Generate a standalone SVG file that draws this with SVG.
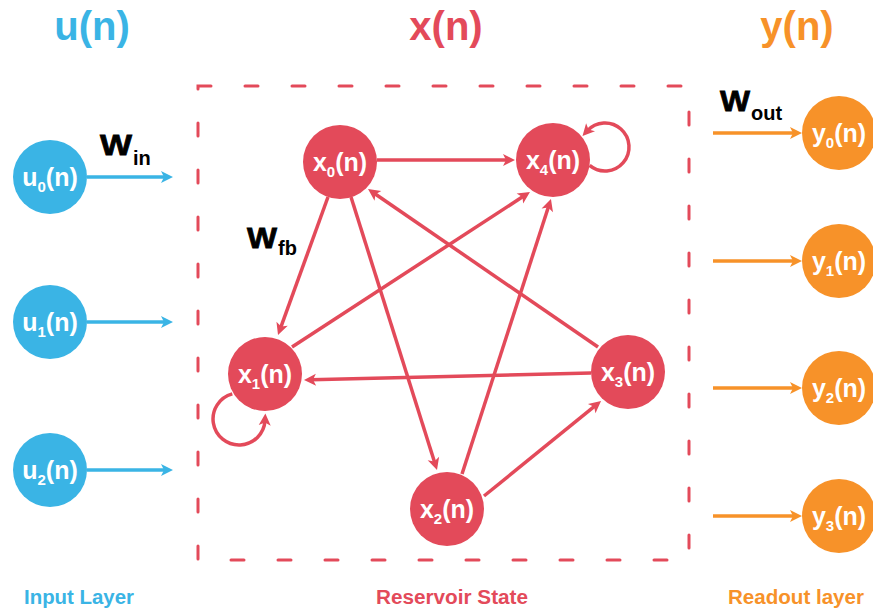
<svg xmlns="http://www.w3.org/2000/svg" width="873" height="610" viewBox="0 0 873 610">
<style>
text{font-family:"Liberation Sans",Arial,sans-serif;font-weight:bold}
.nl{fill:#fff;font-size:25px;text-anchor:middle}
.sub{font-size:15px}
.in{fill:#3AB4E5}.res{fill:#E34A5A}.out{fill:#F79229}
.ti{font-size:40px;text-anchor:middle}
.bl{font-size:20px;text-anchor:middle}
.w{fill:#000;font-size:20px}
.wb{font-size:29px;stroke:#000;stroke-width:0.8}
.rl{stroke:#E34A5A;stroke-width:3.5;fill:none;marker-end:url(#ar)}
.bla{stroke:#3AB4E5;stroke-width:3.5;fill:none;marker-end:url(#ab)}
.ola{stroke:#F79229;stroke-width:3.5;fill:none;marker-end:url(#ao)}
</style>
<defs>
<marker id="ar" markerUnits="userSpaceOnUse" markerWidth="14" markerHeight="14" refX="5" refY="6" orient="auto" overflow="visible"><path d="M0,0 L12,6 L0,12 L3,6 z" fill="#E34A5A"/></marker>
<marker id="ab" markerUnits="userSpaceOnUse" markerWidth="14" markerHeight="14" refX="5" refY="6" orient="auto" overflow="visible"><path d="M0,0 L12,6 L0,12 L3,6 z" fill="#3AB4E5"/></marker>
<marker id="ao" markerUnits="userSpaceOnUse" markerWidth="14" markerHeight="14" refX="5" refY="6" orient="auto" overflow="visible"><path d="M0,0 L12,6 L0,12 L3,6 z" fill="#F79229"/></marker>
</defs>
<rect width="873" height="610" fill="#fff"/>
<g id="titles">
<text class="ti in" x="92" y="40">u(n)</text>
<text class="ti res" x="446" y="40">x(n)</text>
<text class="ti out" x="797" y="40">y(n)</text>
<text class="bl in" x="79" y="604" textLength="110" lengthAdjust="spacingAndGlyphs">Input Layer</text>
<text class="bl res" x="452" y="604" textLength="152" lengthAdjust="spacingAndGlyphs">Reservoir State</text>
<text class="bl out" x="796" y="604" textLength="136" lengthAdjust="spacingAndGlyphs">Readout layer</text>
</g>
<g id="reservoir-box"><rect x="198" y="86" width="491" height="474" fill="none" stroke="#E34A5A" stroke-width="3" stroke-linecap="round" stroke-dasharray="13 34"/></g>
<g id="connectors">
<line class="bla" x1="87" y1="177" x2="166" y2="177"/>
<line class="bla" x1="87" y1="322" x2="166" y2="322"/>
<line class="bla" x1="87" y1="470" x2="166" y2="470"/>
<line class="ola" x1="713" y1="133" x2="795" y2="133"/>
<line class="ola" x1="713" y1="261" x2="795" y2="261"/>
<line class="ola" x1="713" y1="388" x2="795" y2="388"/>
<line class="ola" x1="713" y1="516" x2="795" y2="516"/>
<line class="rl" x1="377" y1="160" x2="508" y2="160"/>
<line class="rl" x1="328" y1="197" x2="280.4" y2="328.4"/>
<line class="rl" x1="351" y1="197" x2="434.9" y2="463.3"/>
<line class="rl" x1="598" y1="347" x2="373.8" y2="193"/>
<line class="rl" x1="292" y1="347" x2="524.1" y2="195.8"/>
<line class="rl" x1="462" y1="474" x2="548.8" y2="205.7"/>
<line class="rl" x1="484" y1="496" x2="595.6" y2="405.4"/>
<line class="rl" x1="591" y1="373" x2="311" y2="379.8"/>
<path class="rl" d="M589.6,165.4 A24,24 0 1 0 587.2,130.9"/>
<path class="rl" d="M232.3,393.9 A26,26 0 1 0 265,420.4"/>
</g>
<g id="weights">
<text class="w" x="100" y="155"><tspan class="wb" textLength="32" lengthAdjust="spacingAndGlyphs">W</tspan><tspan x="133" y="165">in</tspan></text>
<text class="w" x="247" y="248"><tspan class="wb" textLength="30" lengthAdjust="spacingAndGlyphs">W</tspan><tspan x="278" y="255">fb</tspan></text>
<text class="w" x="720" y="111"><tspan class="wb" textLength="30" lengthAdjust="spacingAndGlyphs">W</tspan><tspan x="751" y="120">out</tspan></text>
</g>
<g id="u0"><circle cx="50" cy="177" r="37" fill="#3AB4E5"/><text class="nl" x="50" y="186">u<tspan class="sub" dy="6">0</tspan><tspan dy="-6">(n)</tspan></text></g>
<g id="u1"><circle cx="50" cy="322" r="37" fill="#3AB4E5"/><text class="nl" x="50" y="331">u<tspan class="sub" dy="6">1</tspan><tspan dy="-6">(n)</tspan></text></g>
<g id="u2"><circle cx="50" cy="470" r="37" fill="#3AB4E5"/><text class="nl" x="50" y="479">u<tspan class="sub" dy="6">2</tspan><tspan dy="-6">(n)</tspan></text></g>
<g id="x0"><circle cx="340" cy="162" r="37" fill="#E34A5A"/><text class="nl" x="340" y="171">x<tspan class="sub" dy="6">0</tspan><tspan dy="-6">(n)</tspan></text></g>
<g id="x4"><circle cx="553" cy="160" r="37" fill="#E34A5A"/><text class="nl" x="553" y="169">x<tspan class="sub" dy="6">4</tspan><tspan dy="-6">(n)</tspan></text></g>
<g id="x1"><circle cx="265" cy="374" r="37" fill="#E34A5A"/><text class="nl" x="265" y="383">x<tspan class="sub" dy="6">1</tspan><tspan dy="-6">(n)</tspan></text></g>
<g id="x3"><circle cx="628" cy="372" r="37" fill="#E34A5A"/><text class="nl" x="628" y="381">x<tspan class="sub" dy="6">3</tspan><tspan dy="-6">(n)</tspan></text></g>
<g id="x2"><circle cx="447" cy="509" r="37" fill="#E34A5A"/><text class="nl" x="447" y="518">x<tspan class="sub" dy="6">2</tspan><tspan dy="-6">(n)</tspan></text></g>
<g id="y0"><circle cx="839" cy="133" r="37" fill="#F79229"/><text class="nl" x="839" y="142">y<tspan class="sub" dy="6">0</tspan><tspan dy="-6">(n)</tspan></text></g>
<g id="y1"><circle cx="839" cy="261" r="37" fill="#F79229"/><text class="nl" x="839" y="270">y<tspan class="sub" dy="6">1</tspan><tspan dy="-6">(n)</tspan></text></g>
<g id="y2"><circle cx="839" cy="388" r="37" fill="#F79229"/><text class="nl" x="839" y="397">y<tspan class="sub" dy="6">2</tspan><tspan dy="-6">(n)</tspan></text></g>
<g id="y3"><circle cx="839" cy="516" r="37" fill="#F79229"/><text class="nl" x="839" y="525">y<tspan class="sub" dy="6">3</tspan><tspan dy="-6">(n)</tspan></text></g>
</svg>
